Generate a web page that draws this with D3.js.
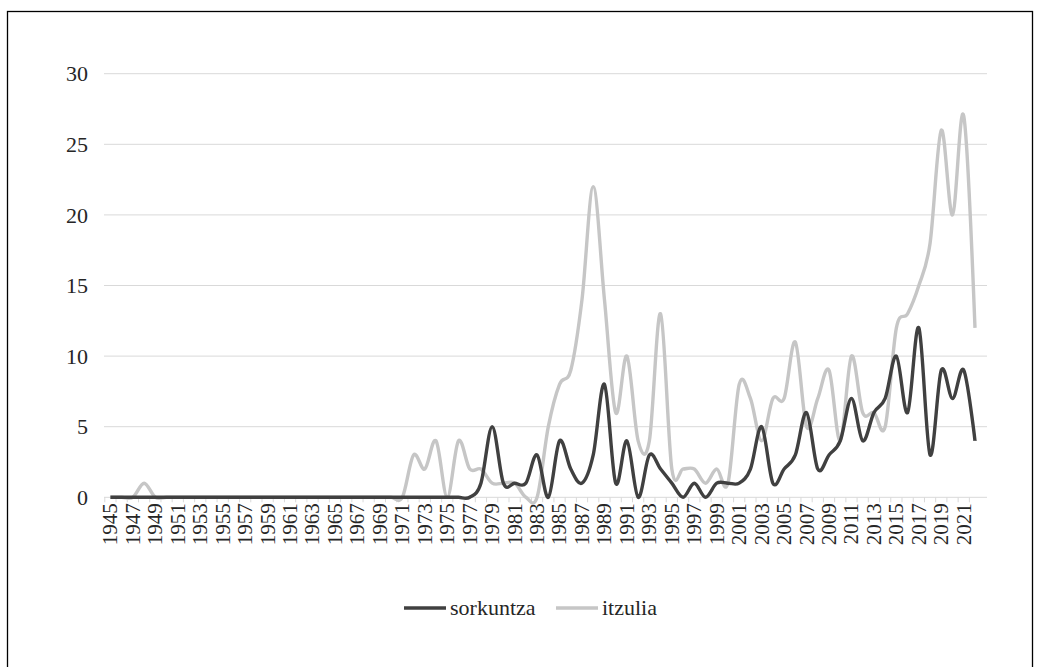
<!DOCTYPE html>
<html>
<head>
<meta charset="utf-8">
<script src="https://cdn.jsdelivr.net/npm/d3@7"></script>
<style>
  body { margin: 0; background: #fff; }
  svg text { font-family: "Liberation Serif", "DejaVu Serif", serif; fill: #262626; }
</style>
</head>
<body>
<div id="chart"></div>
<script>
// chart data
const years = [1945, 1946, 1947, 1948, 1949, 1950, 1951, 1952, 1953, 1954,
               1955, 1956, 1957, 1958, 1959, 1960, 1961, 1962, 1963, 1964,
               1965, 1966, 1967, 1968, 1969, 1970, 1971, 1972, 1973, 1974,
               1975, 1976, 1977, 1978, 1979, 1980, 1981, 1982, 1983, 1984,
               1985, 1986, 1987, 1988, 1989, 1990, 1991, 1992, 1993, 1994,
               1995, 1996, 1997, 1998, 1999, 2000, 2001, 2002, 2003, 2004,
               2005, 2006, 2007, 2008, 2009, 2010, 2011, 2012, 2013, 2014,
               2015, 2016, 2017, 2018, 2019, 2020, 2021, 2022];

const sorkuntza = [0, 0, 0, 0, 0, 0, 0, 0, 0, 0,
                   0, 0, 0, 0, 0, 0, 0, 0, 0, 0,
                   0, 0, 0, 0, 0, 0, 0, 0, 0, 0,
                   0, 0, 0, 1, 5, 1, 1, 1, 3, 0,
                   4, 2, 1, 3, 8, 1, 4, 0, 3, 2,
                   1, 0, 1, 0, 1, 1, 1, 2, 5, 1,
                   2, 3, 6, 2, 3, 4, 7, 4, 6, 7,
                   10, 6, 12, 3, 9, 7, 9, 4];

const itzulia = [0, 0, 0, 1, 0, 0, 0, 0, 0, 0,
                 0, 0, 0, 0, 0, 0, 0, 0, 0, 0,
                 0, 0, 0, 0, 0, 0, 0, 3, 2, 4,
                 0, 4, 2, 2, 1, 1, 1, 0, 0, 5,
                 8, 9, 14, 22, 14, 6, 10, 4, 4, 13,
                 2, 2, 2, 1, 2, 1, 8, 7, 4, 7,
                 7, 11, 5, 7, 9, 4, 10, 6, 6, 5,
                 12, 13, 15, 18, 26, 20, 27, 12];

const yTicks = [0, 5, 10, 15, 20, 25, 30];
const seriesNames = ["sorkuntza", "itzulia"];
const seriesColors = {sorkuntza: "#404040", itzulia: "#c6c6c6"};

const width = 1040;
const height = 667;
const plot = {left: 104, right: 987, top: 73.7, bottom: 497.3};

const svg = d3.select("#chart")
  .append("svg")
    .attr("width", width)
    .attr("height", height);

// outer frame
svg.append("rect")
  .attr("x", 7.5).attr("y", 11.5)
  .attr("width", 1025).attr("height", 670)
  .attr("fill", "none")
  .attr("stroke", "#000")
  .attr("stroke-width", 1.3);

// scales
const X = d3.scaleBand()
  .domain(years)
  .range([104.8, 980.6]);

const Y = d3.scaleLinear()
  .domain([0, 30])
  .range([plot.bottom, plot.top]);

const cx = d => X(d) + X.bandwidth() / 2;

// horizontal gridlines
svg.append("g")
  .selectAll("line")
  .data(yTicks.filter(t => t > 0))
  .enter().append("line")
    .attr("x1", plot.left).attr("x2", plot.right)
    .attr("y1", d => Y(d)).attr("y2", d => Y(d))
    .attr("stroke", "#d9d9d9")
    .attr("stroke-width", 1);

// y labels
svg.append("g")
  .selectAll("text")
  .data(yTicks)
  .enter().append("text")
    .attr("x", 88)
    .attr("y", d => Y(d))
    .attr("dy", "0.35em")
    .attr("text-anchor", "end")
    .style("font-size", "22px")
    .text(d => d);

// x axis line + tick marks between categories
const xAxis = svg.append("g");
xAxis.append("line")
  .attr("x1", plot.left).attr("x2", plot.right)
  .attr("y1", plot.bottom).attr("y2", plot.bottom)
  .attr("stroke", "#d9d9d9");

xAxis.selectAll(".tick")
  .data(years)
  .enter().append("line")
    .attr("class", "tick")
    .attr("x1", d => X(d)).attr("x2", d => X(d))
    .attr("y1", plot.bottom).attr("y2", plot.bottom + 5)
    .attr("stroke", "#d9d9d9");

// year labels, every second year, rotated
xAxis.selectAll(".lbl")
  .data(years.filter((d, i) => i % 2 === 0))
  .enter().append("text")
    .attr("class", "lbl")
    .attr("transform", d => "translate(" + cx(d) + "," + (plot.bottom + 6) + ") rotate(-90)")
    .attr("dy", "0.33em")
    .attr("text-anchor", "end")
    .style("font-size", "21px")
    .text(d => d);

// smoothed lines (light series first, dark on top)
const line = d3.line()
  .x((d, i) => cx(years[i]))
  .y(d => Y(d))
  .curve(d3.curveCardinal);

svg.append("path")
  .datum(itzulia)
  .attr("d", line)
  .attr("fill", "none")
  .attr("stroke", seriesColors.itzulia)
  .attr("stroke-width", 3.4)
  .attr("stroke-linejoin", "round");

svg.append("path")
  .datum(sorkuntza)
  .attr("d", line)
  .attr("fill", "none")
  .attr("stroke", seriesColors.sorkuntza)
  .attr("stroke-width", 3.4)
  .attr("stroke-linejoin", "round");

// legend
const legendPos = {sorkuntza: 404, itzulia: 556};
const legend = svg.append("g");
seriesNames.forEach(name => {
  const x0 = legendPos[name];
  legend.append("line")
    .attr("x1", x0).attr("x2", x0 + 42)
    .attr("y1", 608).attr("y2", 608)
    .attr("stroke", seriesColors[name])
    .attr("stroke-width", 3.6);
  legend.append("text")
    .attr("x", x0 + 46)
    .attr("y", 608)
    .attr("dy", "0.3em")
    .style("font-size", "22px")
    .text(name);
});
</script>
</body>
</html>
